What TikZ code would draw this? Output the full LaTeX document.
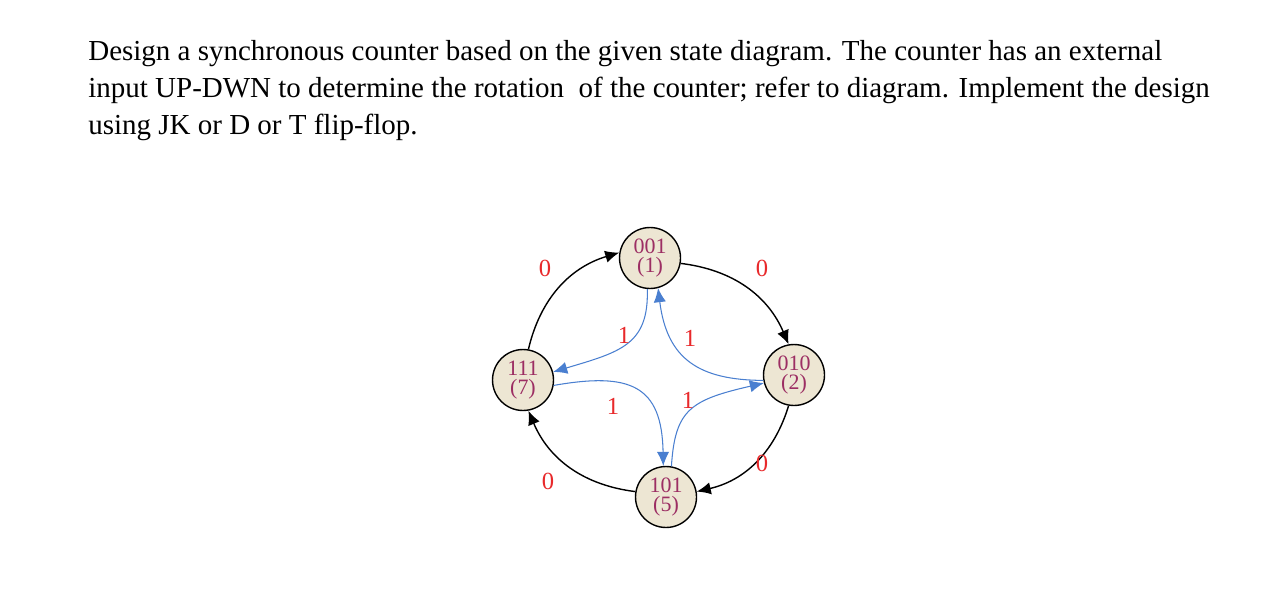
\documentclass[tikz,border=0pt]{standalone}
\usepackage{fontspec}
\setmainfont{Liberation Serif}
\usetikzlibrary{arrows.meta}
\definecolor{stfill}{HTML}{EDE6D3}
\definecolor{sttext}{HTML}{9C2E63}
\definecolor{lblred}{HTML}{E8292B}
\definecolor{upblue}{HTML}{4A7FD0}
\tikzset{
  state/.style={circle, draw, thick, fill=stfill, text=sttext, minimum size=1.22cm, inner sep=0pt, align=center, font=\fontsize{12.5}{11}\selectfont},
  zero/.style={draw, thick, -{Latex[length=8pt,width=7pt]}},
  one/.style={draw=upblue, semithick, -{Latex[length=8pt,width=7pt]}, fill=none},
  lbl/.style={text=lblred, font=\fontsize{14}{14}\selectfont}
}
\begin{document}
\begin{tikzpicture}[x=0.02cm, y=-0.02cm]
    \useasboundingbox (0,0) rectangle (1280,588);
    % Question text
    \node [anchor=north west, align=left, inner sep=0pt,
      font=\fontsize{16.5}{21.2}\selectfont] (question) at (88,40)
      {Design a synchronous counter based on the given state diagram. The counter has an external\\
       input UP-DWN to determine the rotation\ \ of the counter; refer to diagram. Implement the design\\
       using JK or D or T flip-flop.};

    % Place states
    \node [state] (s1) at (650,258) {001\\(1)};
    \node [state] (s7) at (523,380) {111\\(7)};
    \node [state] (s2) at (794,375) {010\\(2)};
    \node [state] (s5) at (666,497) {101\\(5)};

    % Input 0 edges
    \path [zero] (s7.80) to [bend left=30] (s1.170);
    \path [zero] (s1.-10) to [bend left=30] (s2.100);
    \path [zero] (s2.-100) to [bend left=30] (s5.10);
    \path [zero] (s5.170) to [bend left=30] (s7.-80);

    % Input 1 edges
    \path [one] (s1.-95) .. controls (649,345) and (620,352) .. (s7.15);
    \path [one] (s2.-170) .. controls (700,380) and (667,360) .. (s1.-75);
    \path [one] (s7.-10) .. controls (630,372) and (662,385) .. (s5.95);
    \path [one] (s5.80) .. controls (675,410) and (690,400) .. (s2.-165);

    % Labels
    \node [lbl] (l71) at (545,268) {0};
    \node [lbl] (l12) at (762,268) {0};
    \node [lbl] (l25) at (762,463) {0};
    \node [lbl] (l57) at (548,481) {0};
    \node [lbl] (l17) at (624,335) {1};
    \node [lbl] (l21) at (690,338) {1};
    \node [lbl] (l75) at (613,406) {1};
    \node [lbl] (l52) at (688,400) {1};
\end{tikzpicture}
\end{document}
